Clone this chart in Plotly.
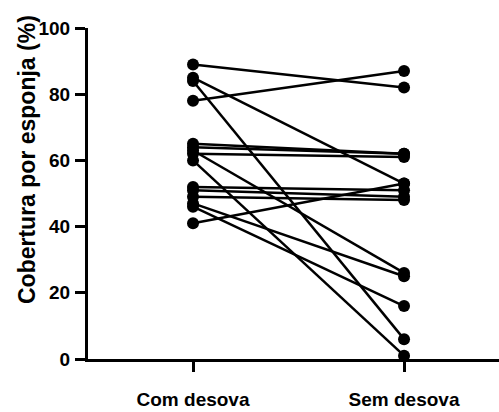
import plotly.graph_objects as go

categories = ["Com desova", "Sem desova"]
com_desova = [89, 85, 84, 78, 65, 64, 62, 63, 60, 52, 51, 49, 47, 46, 41]
sem_desova = [82, 53, 6, 87, 62, 62, 61, 26, 1, 51, 49, 48, 25, 16, 53]
y_ticks = [0, 20, 40, 60, 80, 100]
y_title = "Cobertura por esponja (%)"

xs, ys = [], []
for a, b in zip(com_desova, sem_desova):
    xs += [categories[0], categories[1], None]
    ys += [a, b, None]

fig = go.Figure(go.Scatter(
    x=xs, y=ys, mode="lines+markers",
    line=dict(color="black", width=2.5),
    marker=dict(color="black", size=12),
    cliponaxis=False, connectgaps=False, showlegend=False,
))

tick_font = dict(family="Liberation Sans, Arial", size=19, color="black", weight="bold")
fig.update_layout(
    width=499, height=412,
    margin=dict(l=88, r=0, t=28, b=53, autoexpand=False),
    paper_bgcolor="white", plot_bgcolor="white",
    xaxis=dict(
        type="category", categoryorder="array", categoryarray=categories,
        range=[-0.4976, 1.45], showgrid=False, zeroline=False, automargin=False,
        showline=True, linecolor="black", linewidth=3,
        ticks="outside", ticklen=10, tickwidth=2.5, tickcolor="black",
        tickfont=dict(family="Liberation Sans, Arial", size=19, color="black", weight="bold"),
        ticklabelstandoff=11,
    ),
    yaxis=dict(
        range=[0, 100], tickvals=y_ticks, showgrid=False, zeroline=False, automargin=False,
        showline=True, linecolor="black", linewidth=3,
        ticks="outside", ticklen=10, tickwidth=2.5, tickcolor="black",
        tickfont=tick_font, ticklabelstandoff=1,
    ),
    annotations=[dict(
        text="<b>" + y_title + "</b>", textangle=-90,
        xref="paper", yref="paper", x=(27 - 88) / 411, y=1 - (160 - 28) / 331,
        xanchor="center", yanchor="middle", showarrow=False,
        font=dict(family="Liberation Sans, Arial", size=23, color="black"),
    )],
)
fig.write_html("out.html", config={"displayModeBar": False},
               post_script="document.body.style.margin='0';document.body.style.padding='0';")
